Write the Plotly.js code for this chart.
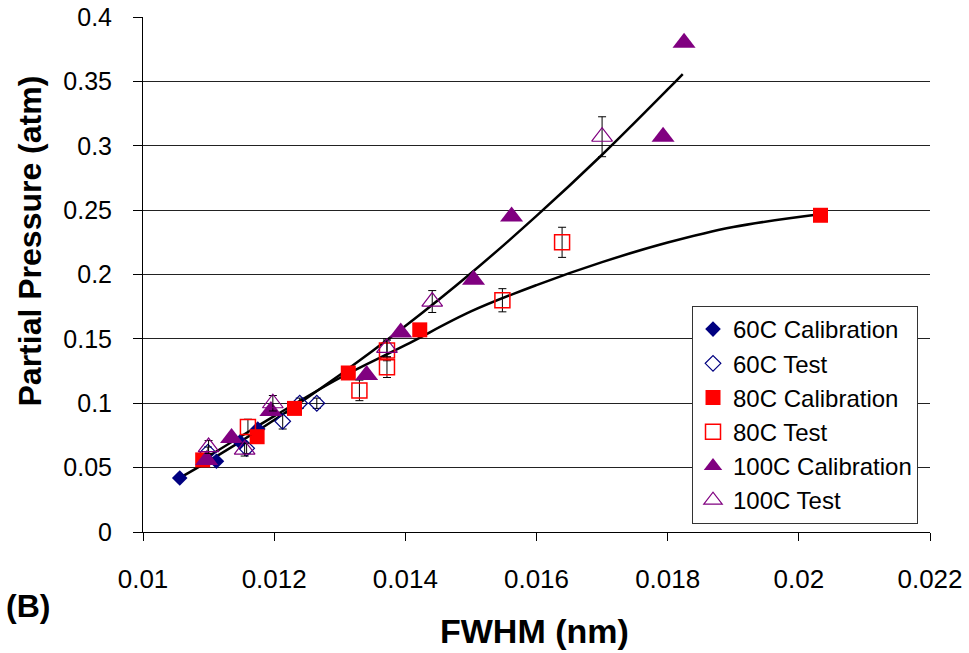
<!DOCTYPE html>
<html>
<head>
<meta charset="utf-8">
<script src="https://cdn.plot.ly/plotly-3.0.1.min.js"></script>
<style>html,body{margin:0;padding:0;background:#fff;}#chart{width:969px;height:653px;}</style>
</head>
<body>
<div id="chart"></div>
<script>
// ---- data ----
const cal60X = [0.01056, 0.01112, 0.01148, 0.01175];
const cal60Y = [0.042, 0.055, 0.070, 0.080];

const test60X = [0.01099, 0.01158, 0.01213, 0.01239, 0.01265];
const test60Y = [0.062, 0.065, 0.086, 0.100, 0.100];
const test60Err = [0.004, 0.004, 0.006, 0.004, 0.004];

const cal80X = [0.01091, 0.01174, 0.01231, 0.01313, 0.01422, 0.02033];
const cal80Y = [0.056, 0.074, 0.096, 0.1235, 0.157, 0.246];

const test80X = [0.01160, 0.01330, 0.01372, 0.01372, 0.01548, 0.01639];
const test80Y = [0.0816, 0.110, 0.128, 0.141, 0.180, 0.225];
const test80Err = [0.006, 0.008, 0.008, 0.008, 0.009, 0.0117];

const cal100X = [0.01097, 0.01135, 0.01195, 0.01341, 0.01393, 0.01504, 0.01562, 0.01793, 0.01825];
const cal100Y = [0.056, 0.073, 0.094, 0.122, 0.155, 0.196, 0.245, 0.307, 0.380];

const test100X = [0.01100, 0.01155, 0.01198, 0.01372, 0.01441, 0.01700];
const test100Y = [0.066, 0.064, 0.100, 0.143, 0.179, 0.307];
const test100Err = [0.005, 0.005, 0.006, 0.007, 0.0085, 0.0155];

// trend curves, points
const trendAX = [0.01056, 0.011, 0.012, 0.013, 0.014, 0.015, 0.016, 0.017, 0.018, 0.01823];
const trendAY = [0.042, 0.055, 0.087, 0.122, 0.160, 0.201, 0.2455, 0.293, 0.3437, 0.3557];
const trendBX = [0.01091, 0.012, 0.013, 0.014, 0.015, 0.016, 0.017, 0.018, 0.019, 0.02035];
const trendBY = [0.056, 0.090, 0.1196, 0.1451, 0.1713, 0.1918, 0.2096, 0.2248, 0.2369, 0.247];

const xTickVals = [0.01, 0.012, 0.014, 0.016, 0.018, 0.02, 0.022];
const xTickText = ['0.01', '0.012', '0.014', '0.016', '0.018', '0.02', '0.022'];
const yTickVals = [0, 0.05, 0.1, 0.15, 0.2, 0.25, 0.3, 0.35, 0.4];
const yTickText = ['0', '0.05', '0.1', '0.15', '0.2', '0.25', '0.3', '0.35', '0.4'];

const names = ['60C Calibration', '60C Test', '80C Calibration', '80C Test', '100C Calibration', '100C Test'];

// ---- styles ----
const NAVY = '#000080', RED = '#FF0000', PURPLE = '#800080';
const errStyle = {type: 'data', visible: true, color: '#000', thickness: 1, width: 4};

const traces = [
  {x: trendAX, y: trendAY, mode: 'lines', line: {color: '#000', width: 2.5, shape: 'spline'}, showlegend: false, hoverinfo: 'skip'},
  {x: trendBX, y: trendBY, mode: 'lines', line: {color: '#000', width: 2.5, shape: 'spline'}, showlegend: false, hoverinfo: 'skip'},
  {x: cal60X, y: cal60Y, name: names[0], legendgroup: 'a', mode: 'markers',
   marker: {symbol: 'diamond', size: 12, color: NAVY, line: {width: 0}}},
  {x: test60X, y: test60Y, name: names[1], legendgroup: 'b', mode: 'markers',
   error_y: Object.assign({array: test60Err}, errStyle),
   marker: {symbol: 'diamond-open', size: 12, color: NAVY, line: {width: 1.2, color: NAVY}}},
  {x: cal80X, y: cal80Y, name: names[2], legendgroup: 'c', mode: 'markers',
   marker: {symbol: 'square', size: 15, color: RED, line: {width: 0}}},
  {x: test80X, y: test80Y, name: names[3], legendgroup: 'd', mode: 'markers',
   error_y: Object.assign({array: test80Err}, errStyle),
   marker: {symbol: 'square-open', size: 15, color: RED, line: {width: 1.5, color: RED}}},
  {x: cal100X, y: cal100Y, name: names[4], legendgroup: 'e', mode: 'markers',
   marker: {symbol: 'triangle-up', size: 20, color: PURPLE, line: {width: 0}}},
  {x: test100X, y: test100Y, name: names[5], legendgroup: 'f', mode: 'markers',
   error_y: Object.assign({array: test100Err}, errStyle),
   marker: {symbol: 'triangle-up-open', size: 18, color: PURPLE, line: {width: 1.2, color: PURPLE}}}
];

const layout = {
  width: 969, height: 653,
  margin: {l: 143, r: 39, t: 17, b: 121},
  paper_bgcolor: '#fff', plot_bgcolor: '#fff',
  font: {family: 'Liberation Sans, Arial, sans-serif', color: '#000'},
  showlegend: true,
  legend: {
    x: 0.6976, y: 0.4388, xanchor: 'left', yanchor: 'top',
    bgcolor: '#fff', bordercolor: '#333', borderwidth: 1,
    font: {size: 24, family: 'Liberation Sans, Arial, sans-serif', color: '#000'},
    tracegroupgap: 0, itemsizing: 'trace'
  },
  xaxis: {
    range: [0.01, 0.022], tickmode: 'array', tickvals: xTickVals, ticktext: xTickText,
    showgrid: false, zeroline: false, showline: true, linecolor: '#000', linewidth: 1,
    ticks: 'outside', ticklen: 8, tickcolor: '#000', ticklabelstandoff: 16,
    tickfont: {size: 26, family: 'Liberation Sans, Arial, sans-serif', color: '#000'}
  },
  yaxis: {
    range: [0, 0.4], tickmode: 'array', tickvals: yTickVals, ticktext: yTickText,
    showgrid: true, gridcolor: '#222', gridwidth: 1,
    zeroline: false, showline: true, linecolor: '#000', linewidth: 1,
    ticks: 'outside', ticklen: 9, tickcolor: '#000', ticklabelstandoff: 16,
    tickfont: {size: 25, family: 'Liberation Sans, Arial, sans-serif', color: '#000'}
  },
  annotations: [
    {text: '<b>Partial Pressure (atm)</b>', xref: 'paper', yref: 'paper', x: -0.143, y: 0.565,
     xanchor: 'center', yanchor: 'middle', textangle: -90, showarrow: false,
     font: {size: 32, family: 'Liberation Sans, Arial, sans-serif', color: '#000'}},
    {text: '<b>FWHM (nm)</b>', xref: 'paper', yref: 'paper', x: 0.498, y: -0.193,
     xanchor: 'center', yanchor: 'middle', showarrow: false,
     font: {size: 34, family: 'Liberation Sans, Arial, sans-serif', color: '#000'}},
    {text: '<b>(B)</b>', xref: 'paper', yref: 'paper', x: -0.176, y: -0.143,
     xanchor: 'left', yanchor: 'middle', showarrow: false,
     font: {size: 32, family: 'Liberation Sans, Arial, sans-serif', color: '#000'}}
  ]
};

Plotly.newPlot('chart', traces, layout, {displayModeBar: false, staticPlot: true});
</script>
</body>
</html>
